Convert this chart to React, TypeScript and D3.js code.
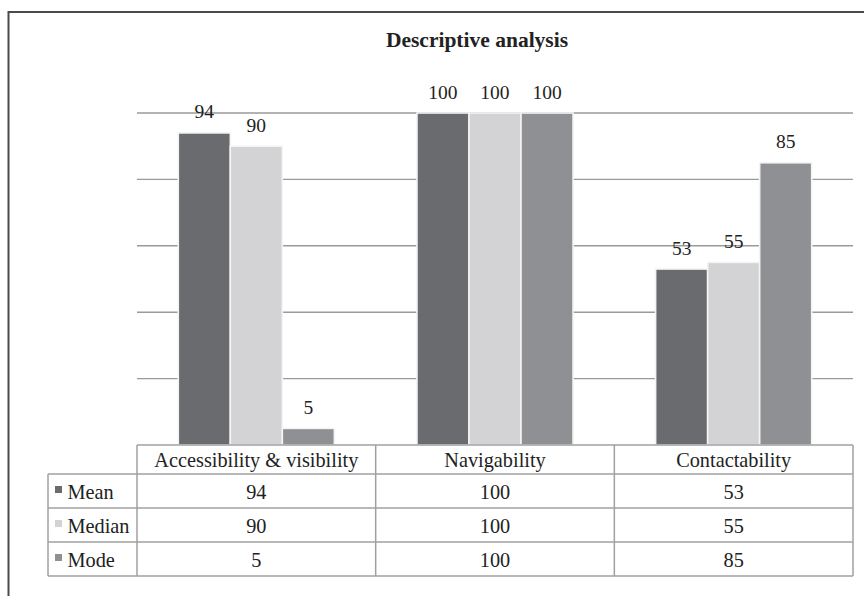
import React from "react";
import * as d3 from "d3";

const categories = ["Accessibility & visibility", "Navigability", "Contactability"];
const seriesNames = ["Mean", "Median", "Mode"];
const meanValues = [94, 100, 53];
const medianValues = [90, 100, 55];
const modeValues = [5, 100, 85];
const seriesColors = ["#6a6b6f", "#d3d3d5", "#8f9094"];
const gridTicks = [0, 20, 40, 60, 80, 100];

const W = 864;
const H = 596;
const plot = { left: 137, right: 853, top: 113, bottom: 445 };
const rowH = { header: 29, row: 34 };
const tableLeft = 48;
const serif = "'Liberation Serif', 'Times New Roman', serif";

export default function App() {
  const seriesValues = [meanValues, medianValues, modeValues];
  const x0 = d3.scaleBand<string>().domain(categories).range([plot.left, plot.right]).padding(0);
  const x1 = d3
    .scaleBand<string>()
    .domain(seriesNames)
    .range([41.3, x0.bandwidth() - 41.3])
    .padding(0);
  const y = d3.scaleLinear().domain([0, 100]).range([plot.bottom, plot.top]);

  const headerTop = plot.bottom;
  const headerBottom = headerTop + rowH.header;
  const rowTops = seriesNames.map((_, i) => headerBottom + i * rowH.row);
  const tableBottom = headerBottom + seriesNames.length * rowH.row;
  const gridColor = "#9a9a9a";
  const tableColor = "#a0a0a0";

  return (
    <svg
      width={W}
      height={H}
      style={{ position: "absolute", left: 0, top: 0, background: "#fff" }}
      fontFamily={serif}
    >
      {/* outer frame */}
      <path d={`M8.5,${H} L8.5,12 L${W},12`} fill="none" stroke="#4a4a4a" strokeWidth={2} />

      {/* title */}
      <text x={477} y={46.5} textAnchor="middle" fontSize={21.5} fontWeight="bold" fill="#222">
        Descriptive analysis
      </text>

      {/* gridlines */}
      {gridTicks
        .filter((t) => t > 0)
        .map((t) => (
          <line
            key={t}
            x1={plot.left}
            x2={plot.right}
            y1={y(t)}
            y2={y(t)}
            stroke={gridColor}
            strokeWidth={1.4}
          />
        ))}

      {/* bars */}
      {categories.map((c, ci) => (
        <g key={c} transform={`translate(${x0(c)},0)`}>
          {seriesNames.map((s, si) => {
            const v = seriesValues[si][ci];
            const bx = x1(s)!;
            const bw = x1.bandwidth();
            return (
              <g key={s}>
                <rect
                  x={bx}
                  y={y(v)}
                  width={bw}
                  height={y(0) - y(v)}
                  fill={seriesColors[si]}
                  stroke="#f4f4f4"
                  strokeWidth={1.6}
                />
                <text
                  x={bx + bw / 2}
                  y={y(v) - 14.5}
                  textAnchor="middle"
                  fontSize={19.5}
                  fill="#222"
                >
                  {v}
                </text>
              </g>
            );
          })}
        </g>
      ))}

      {/* data table */}
      <g fill="none" stroke={tableColor} strokeWidth={1.5}>
        <line x1={plot.left} x2={plot.right} y1={headerTop} y2={headerTop} />
        <line x1={tableLeft} x2={plot.right} y1={headerBottom} y2={headerBottom} />
        {rowTops.slice(1).map((ry, i) => (
          <line key={i} x1={tableLeft} x2={plot.right} y1={ry} y2={ry} />
        ))}
        <line x1={tableLeft} x2={plot.right} y1={tableBottom} y2={tableBottom} />
        <line x1={tableLeft} x2={tableLeft} y1={headerBottom} y2={tableBottom} />
        {[...categories.map((c) => x0(c)!), plot.right].map((vx, i) => (
          <line key={i} x1={vx} x2={vx} y1={headerTop} y2={tableBottom} />
        ))}
      </g>

      {/* header labels */}
      {categories.map((c) => (
        <text
          key={c}
          x={x0(c)! + x0.bandwidth() / 2}
          y={headerTop + rowH.header / 2 + 7}
          textAnchor="middle"
          fontSize={20.3}
          fill="#222"
        >
          {c}
        </text>
      ))}

      {/* rows */}
      {seriesNames.map((s, si) => {
        const cy = rowTops[si] + rowH.row / 2;
        return (
          <g key={s}>
            <rect x={55} y={cy - 5} width={7} height={7} fill={seriesColors[si]} />
            <text x={67.5} y={cy + 7.5} fontSize={20.3} fill="#222">
              {s}
            </text>
            {categories.map((c, ci) => (
              <text
                key={c}
                x={x0(c)! + x0.bandwidth() / 2}
                y={cy + 7.5}
                textAnchor="middle"
                fontSize={20.3}
                fill="#222"
              >
                {seriesValues[si][ci]}
              </text>
            ))}
          </g>
        );
      })}
    </svg>
  );
}
